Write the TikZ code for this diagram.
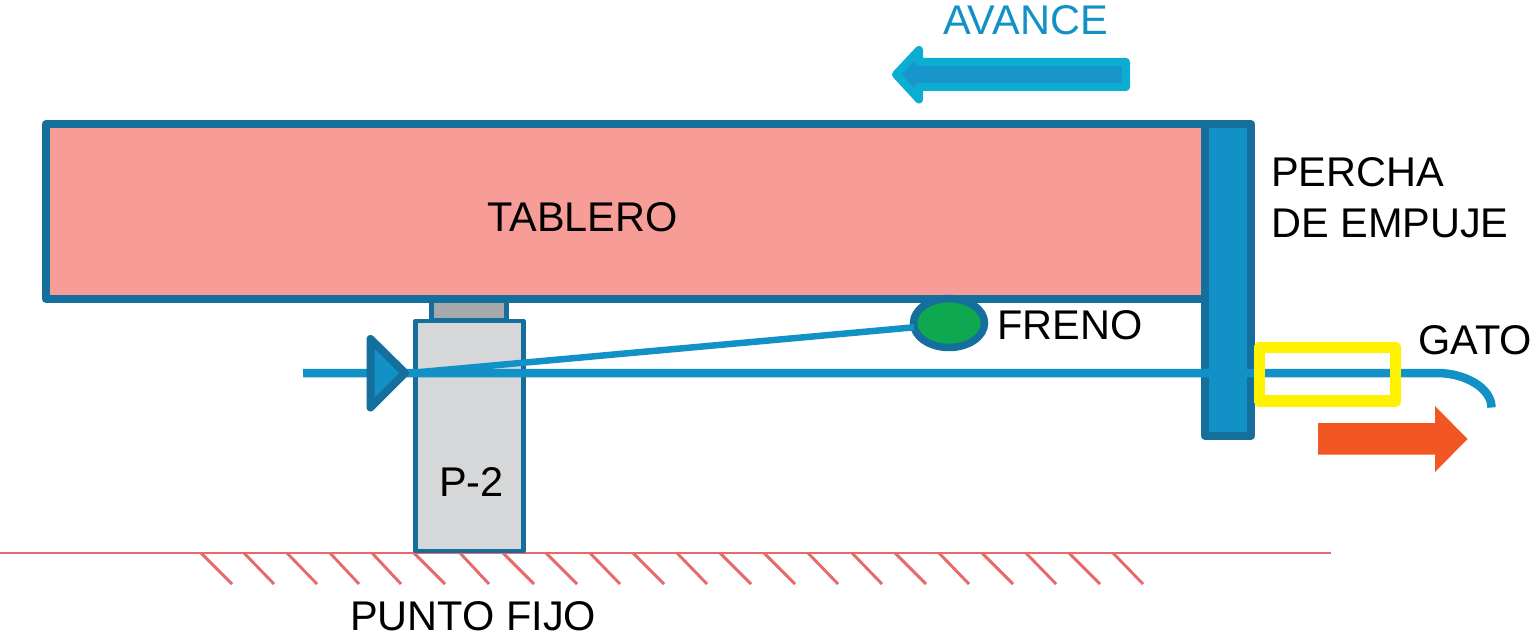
\documentclass[tikz,border=0pt]{standalone}
\usepackage{fontspec}
\usetikzlibrary{shapes.geometric}
\setmainfont{Liberation Sans}
\definecolor{steel}{HTML}{156F9D}
\definecolor{cablec}{HTML}{1291C7}
\definecolor{pinkc}{HTML}{F79C97}
\definecolor{pierc}{HTML}{D5D7D8}
\definecolor{bearc}{HTML}{A7A9AC}
\definecolor{greenc}{HTML}{0DA84F}
\definecolor{yellowc}{HTML}{FFF200}
\definecolor{groundc}{HTML}{E8696A}
\definecolor{orangec}{HTML}{F15623}
\definecolor{avanceb}{HTML}{0BAED2}
\definecolor{avancef}{HTML}{1896CC}
\tikzset{
  label text/.style={anchor=base west,inner sep=0pt,font=\fontsize{41.5}{50}\selectfont,text=black},
  solid box/.style={draw=steel,rectangle,inner sep=0pt,outer sep=0pt,anchor=north west,line join=round},
  cable/.style={draw=cablec,line width=8.5pt},
  hatch/.style={draw=groundc,line width=2.9pt},
}
\begin{document}
\begin{tikzpicture}[x=1pt,y=-1pt]
\useasboundingbox (0,0) rectangle (1531,639);
% ground
\coordinate (g1) at (0,553);
\coordinate (g2) at (1331,553);
\draw[hatch] (g1) -- (g2);
\foreach \i/\xa/\xb in {0/201/232,1/244/274,2/287/317,3/330/359,4/372/401,5/414/445,6/460/489,7/503/534,8/546/577,9/590/620,10/633/664,11/677/707,12/720/751,13/764/795,14/808/838,15/852/882,16/895/926,17/939/969,18/982/1013,19/1026/1056,20/1069/1100,21/1113/1143}{
  \draw[hatch] (\xa,553) -- (\xb,584);
}
% pier and bearing
\node[solid box,line width=4.5pt,fill=pierc,minimum width=108pt,minimum height=230pt] (pier) at (415.5,321) {};
\node[solid box,line width=5pt,fill=bearc,minimum width=75pt,minimum height=21pt] (bearing) at (431.5,299) {};
% deck and push hanger
\node[solid box,line width=8pt,fill=pinkc,minimum width=1159pt,minimum height=175pt] (deck) at (46,124) {};
\node[solid box,line width=8pt,fill=cablec,minimum width=46pt,minimum height=312pt] (hanger) at (1205,124) {};
% cable
\coordinate (cableL) at (303,373);
\coordinate (cableR) at (1437,373);
\coordinate (hookEnd) at (1491.5,407.5);
\coordinate (anchorTip) at (410,373);
\draw[cable] (cableL) -- (cableR) .. controls (1465,373) and (1491.5,388) .. (hookEnd);
% brake
\node[ellipse,draw=steel,line width=7.5pt,fill=greenc,minimum width=71pt,minimum height=49pt,inner sep=0pt,outer sep=0pt] (brake) at (949,323) {};
\draw[draw=cablec,line width=6.5pt] (anchorTip) -- (brake.187);
% anchor triangle
\draw[draw=steel,line width=8pt,fill=cablec,line join=round] (370.5,339) -- (405,373) -- (370.5,407.5) -- cycle;
% jack
\node[draw=yellowc,line width=11.5pt,rectangle,inner sep=0pt,outer sep=0pt,anchor=north west,minimum width=136pt,minimum height=53.5pt,line join=round] (jack) at (1259.5,347.5) {};
% arrows
\fill[orangec] (1318,423) -- (1435,423) -- (1435,406) -- (1467.5,439) -- (1435,472) -- (1435,454.5) -- (1318,454.5) -- cycle;
\draw[draw=avanceb,fill=avancef,line width=8pt,line join=round] (896,74.5) -- (919,50) -- (919,62) -- (1126,62) -- (1126,87) -- (919,87) -- (919,99.5) -- cycle;
% labels
\node[label text,text=cablec] (avance) at (943,35) {AVANCE};
\node[label text] (tablero) at (487,231) {TABLERO};
\node[label text] (percha) at (1271,187) {PERCHA};
\node[label text] (empuje) at (1271,237) {DE EMPUJE};
\node[label text] (freno) at (997,339) {FRENO};
\node[label text] (gato) at (1418,354) {GATO};
\node[label text] (ptwo) at (439,496) {P-2};
\node[label text] (fijo) at (350,630) {PUNTO FIJO};
\end{tikzpicture}
\end{document}
